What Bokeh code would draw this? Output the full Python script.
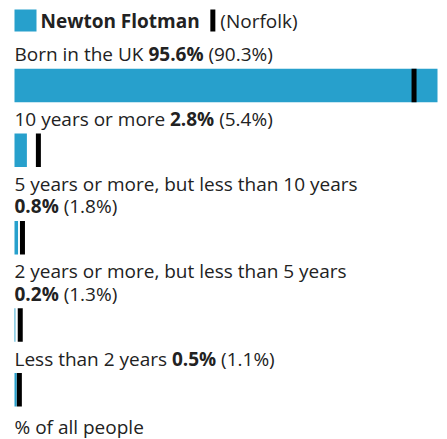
import os
import glob
from bokeh.plotting import figure
from bokeh.models import Range1d, ColumnDataSource
from bokeh.core.properties import value
from bokeh.embed import file_html
from bokeh.resources import INLINE

# ---------------- data ----------------
area_name = "Newton Flotman"
comparison_name = "(Norfolk)"
categories = [
    "Born in the UK",
    "10 years or more",
    "5 years or more, but less than 10 years",
    "2 years or more, but less than 5 years",
    "Less than 2 years",
]
area_values = [95.6, 2.8, 0.8, 0.2, 0.5]
comparison_values = [90.3, 5.4, 1.8, 1.3, 1.1]
axis_label = "% of all people"

# ---------------- style / layout ----------------
W, H = 447, 439
LEFT = 14
RIGHT = 437
FONT = "Open Sans"
FS = 19
LINE_H = 22.3
BLUE = "#27a0cc"
MARK = "#000000"
TXT = "#222222"
BAR_H = 33.5
DY = 6.5   # correction from wanted baseline to the y given to the text glyph


def _find(names):
    roots = ["/usr/share/fonts", "/usr/local/share/fonts",
             os.path.expanduser("~/.fonts"), os.path.expanduser("~/.local/share/fonts")]
    for n in names:
        for r in roots:
            hits = glob.glob(os.path.join(r, "**", n), recursive=True)
            if hits:
                return hits[0]
    return None


_fonts = {}


def _load(bold):
    from PIL import ImageFont
    if bold:
        f = _find(["OpenSans-Bold.ttf"])
        if f:
            return ImageFont.truetype(f, FS)
    else:
        f = _find(["OpenSans-Regular.ttf"])
        if f:
            return ImageFont.truetype(f, FS)
    f = _find(["OpenSans*wght*.ttf", "OpenSans*.ttf"])
    font = ImageFont.truetype(f, FS)
    if bold:
        try:
            font.set_variation_by_name("Bold")
        except Exception:
            try:
                axes = font.get_variation_axes()
                vals = []
                for a in axes:
                    nm = a.get("name", b"")
                    nm = nm.decode() if isinstance(nm, bytes) else str(nm)
                    vals.append(700 if "eight" in nm or "wght" in nm else a.get("default", 100))
                font.set_variation_by_axes(vals)
            except Exception:
                pass
    return font


def text_w(s, bold=False):
    try:
        if bold not in _fonts:
            _fonts[bold] = _load(bold)
        return _fonts[bold].getlength(s)
    except Exception:
        return len(s) * FS * (0.58 if bold else 0.54)


xmax = max(area_values + comparison_values)
scale = (RIGHT - LEFT) / xmax


def px(c):
    return (c - LEFT) / scale


p = figure(width=W, height=H, output_backend="svg", toolbar_location=None,
           x_range=Range1d(px(0), px(W)), y_range=Range1d(H, 0),
           min_border=0, outline_line_color=None)
p.axis.visible = False
p.grid.visible = False
p.background_fill_color = "white"
p.border_fill_color = "white"

norm = dict(xs=[], ys=[], t=[])
bold = dict(xs=[], ys=[], t=[])


def put(d, x, y, t):
    d["xs"].append(px(x))
    d["ys"].append(y - DY)
    d["t"].append(t)


SP = text_w(" ")

# legend
p.rect(x=[px(LEFT + 11)], y=[20], width=22, height=22, width_units="screen",
       fill_color=BLUE, line_color=None)
put(bold, LEFT + 26, 27, area_name)
mx = LEFT + 26 + text_w(area_name, True) + 11
p.rect(x=[px(mx + 2.5)], y=[20], width=5, height=22, width_units="screen",
       fill_color=MARK, line_color=None)
put(norm, mx + 10, 27, comparison_name)

# rows
bar_y = []
bar_top = 68.3
for i, (cat, a, c) in enumerate(zip(categories, area_values, comparison_values)):
    val = f"{a}%"
    cmp_ = f"({c}%)"
    full = text_w(cat) + SP + text_w(val, True) + SP + text_w(cmp_)
    two = LEFT + full > W - 4
    if i > 0:
        bar_top += 64.8 + (22.5 if two else 0)
    yb = bar_top - 8
    if two:
        put(norm, LEFT, yb - LINE_H, cat)
        put(bold, LEFT, yb, val)
        put(norm, LEFT + text_w(val, True) + SP, yb, cmp_)
    else:
        x0 = LEFT + text_w(cat) + SP
        put(norm, LEFT, yb, cat)
        put(bold, x0, yb, val)
        put(norm, x0 + text_w(val, True) + SP, yb, cmp_)
    bar_y.append(bar_top + BAR_H / 2)

put(norm, LEFT, bar_top + BAR_H + 26.5, axis_label)

src = ColumnDataSource(dict(y=bar_y, a=area_values, c=comparison_values))
p.hbar(y="y", left=0, right="a", height=BAR_H, source=src,
       fill_color=BLUE, line_color=None)
p.rect(x="c", y="y", width=5, height=BAR_H, width_units="screen", source=src,
       fill_color=MARK, line_color=None)

for d, st in ((norm, "normal"), (bold, "bold")):
    p.text(x="xs", y="ys", text="t", source=ColumnDataSource(d),
           text_font=value(FONT), text_font_size=f"{FS}px",
           text_font_style=st, text_color=TXT,
           text_baseline="alphabetic", text_align="left")

open("out.html", "w").write(file_html(p, INLINE))
